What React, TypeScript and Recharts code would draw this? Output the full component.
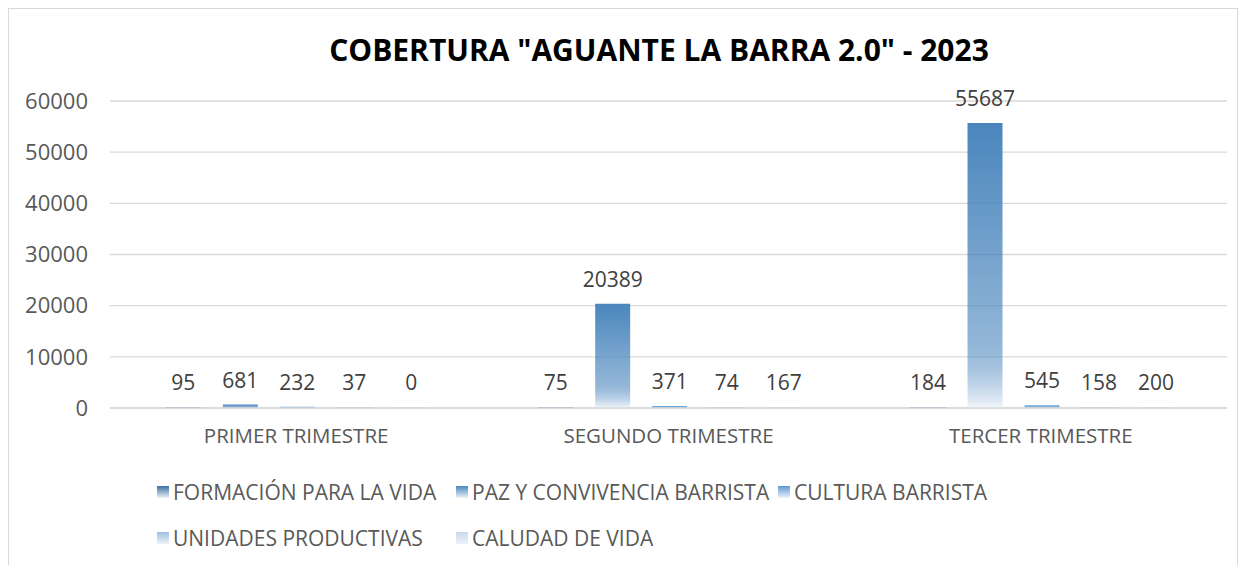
import { BarChart, Bar, XAxis, YAxis, CartesianGrid, LabelList } from "recharts";

const trimestres = ["PRIMER TRIMESTRE", "SEGUNDO TRIMESTRE", "TERCER TRIMESTRE"];
const formacion = [95, 75, 184];
const paz = [681, 20389, 55687];
const cultura = [232, 371, 545];
const unidades = [37, 74, 158];
const calidad = [0, 167, 200];
const yTicks = [0, 10000, 20000, 30000, 40000, 50000, 60000];

const series = [
  { key: "formacion", name: "FORMACIÓN PARA LA VIDA", color: "#3d70a0", values: formacion },
  { key: "paz", name: "PAZ Y CONVIVENCIA BARRISTA", color: "#4a86bd", values: paz },
  { key: "cultura", name: "CULTURA BARRISTA", color: "#5b9bd5", values: cultura },
  { key: "unidades", name: "UNIDADES PRODUCTIVAS", color: "#9dbfe3", values: unidades },
  { key: "calidad", name: "CALUDAD DE VIDA", color: "#c8d8ed", values: calidad },
];

const data = trimestres.map((t, i) => {
  const row: any = { name: t };
  series.forEach((s) => (row[s.key] = s.values[i]));
  return row;
});

const FONT = "'Open Sans', sans-serif";

// legend laid out like excel: 3 columns, wraps to second row
const colWidths = [299, 322, 300];
function LegendBox() {
  return (
    <div
      style={{
        position: "absolute",
        left: 148,
        top: 460,
        display: "flex",
        flexWrap: "wrap",
        width: 940,
        fontFamily: FONT,
        fontSize: 21,
        color: "#595959",
      }}
    >
      {series.map((s, i) => (
        <div
          key={s.key}
          style={{ width: colWidths[i % 3], height: 46, display: "flex", alignItems: "center", whiteSpace: "nowrap" }}
        >
          <span
            style={{
              display: "inline-block",
              flex: "none",
              width: 12,
              height: 12,
              marginRight: 4,
              background: `linear-gradient(${s.color}, #eef3f9)`,
            }}
          />
          {s.name}
        </div>
      ))}
    </div>
  );
}

// always draw the value, even for zero-height bars
const renderLabel = (props: any) => {
  const { x, y, width, value } = props;
  return (
    <text
      x={x + width / 2}
      y={y - 17}
      textAnchor="middle"
      style={{ fontFamily: FONT, fontSize: 21, fill: "#404040" }}
    >
      {value}
    </text>
  );
};

export default function App() {
  return (
    <div style={{ position: "relative", width: 1228, height: 560, border: "1px solid #d9d9d9" }}>
      <div
        style={{
          position: "absolute",
          top: 20,
          left: 0,
          width: 1300,
          textAlign: "center",
          fontFamily: FONT,
          fontWeight: 700,
          fontSize: 30,
          color: "#000",
        }}
      >
        COBERTURA "AGUANTE LA BARRA 2.0" - 2023
      </div>
      <BarChart
        width={1228}
        height={560}
        data={data}
        margin={{ top: 92, right: 10, bottom: 121, left: 0 }}
        barCategoryGap="15%"
        barGap={22}
      >
        <defs>
          {series.map((s) => (
            <linearGradient key={s.key} id={"g-" + s.key} x1="0" y1="0" x2="0" y2="1">
              <stop offset="0%" stopColor={s.color} />
              <stop offset="78%" stopColor={s.color} stopOpacity={0.6} />
              <stop offset="100%" stopColor="#f2f6fb" />
            </linearGradient>
          ))}
        </defs>
        <CartesianGrid vertical={false} stroke="#d9d9d9" strokeWidth={1.3} />
        <XAxis
          dataKey="name"
          height={40}
          tickLine={false}
          axisLine={{ stroke: "#d9d9d9", strokeWidth: 1.3 }}
          tick={{ fontFamily: FONT, fontSize: 20.5, fill: "#595959" }}
          tickMargin={14}
        />
        <YAxis
          width={101}
          domain={[0, 60000]}
          ticks={yTicks}
          axisLine={false}
          tickLine={false}
          tickMargin={16}
          tick={{ fontFamily: FONT, fontSize: 22, fill: "#595959" }}
        />
        {series.map((s) => (
          <Bar
            key={s.key}
            dataKey={s.key}
            name={s.name}
            fill={`url(#g-${s.key})`}
            minPointSize={1}
            isAnimationActive={false}
          >
            <LabelList dataKey={s.key} content={renderLabel} />
          </Bar>
        ))}
      </BarChart>
      <LegendBox />
    </div>
  );
}
